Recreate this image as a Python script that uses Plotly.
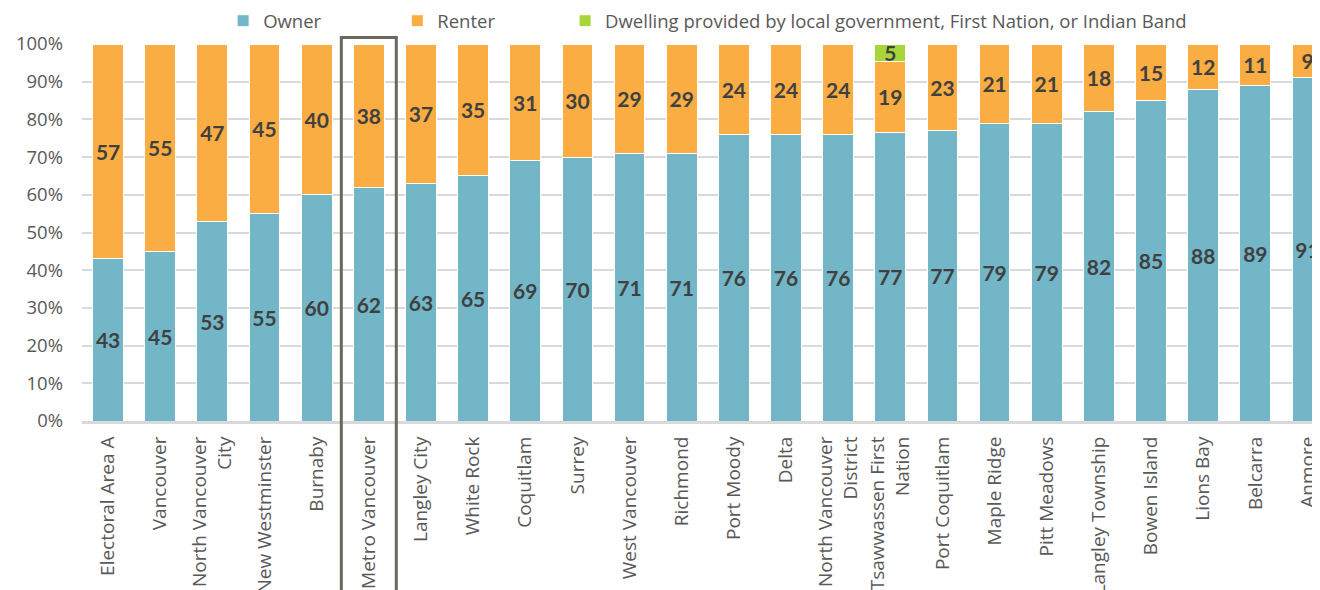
import plotly.graph_objects as go

categories = ["Electoral Area A", "Vancouver", "North Vancouver<br>City", "New Westminster",
              "Burnaby", "Metro Vancouver", "Langley City", "White Rock", "Coquitlam", "Surrey",
              "West Vancouver", "Richmond", "Port Moody", "Delta", "North Vancouver<br>District",
              "Tsawwassen First<br>Nation", "Port Coquitlam", "Maple Ridge", "Pitt Meadows",
              "Langley Township", "Bowen Island", "Lions Bay", "Belcarra", "Anmore"]
owner = [43, 45, 53, 55, 60, 62, 63, 65, 69, 70, 71, 71, 76, 76, 76, 76.6, 77, 79, 79, 82, 85, 88, 89, 91]
renter = [57, 55, 47, 45, 40, 38, 37, 35, 31, 30, 29, 29, 24, 24, 24, 18.8, 23, 21, 21, 18, 15, 12, 11, 9]
other = [None] * 15 + [4.6] + [None] * 8
series_names = ["Owner", "Renter", "Dwelling provided by local government, First Nation, or Indian Band"]
y_ticks = [0, 10, 20, 30, 40, 50, 60, 70, 80, 90, 100]
y_tick_labels = [f"{v}%" for v in y_ticks]
highlight = "Metro Vancouver"

BLUE = "#72B6C8"
ORANGE = "#F9AD42"
GREEN = "#A8D63A"
LABEL_FONT = dict(family="Lato", size=21, color="#404040", weight="bold")
legend_ids = ["legend", "legend2", "legend3"]
legend_x = [0.1140, 0.2547, 0.3902]

fig = go.Figure()
for name, vals, col, lg in zip(series_names, [owner, renter, other], [BLUE, ORANGE, GREEN], legend_ids):
    fig.add_trace(go.Bar(
        x=list(range(len(categories))), y=vals, name=name, legend=lg,
        marker=dict(color=col, line=dict(color="white", width=1)),
        texttemplate="%{y:.0f}", textposition="inside", insidetextanchor="middle",
        textangle=0, textfont=LABEL_FONT, constraintext="none",
    ))

hi = categories.index(highlight)
fig.add_shape(type="rect", xref="x", yref="paper",
              x0=hi - 0.527, x1=hi + 0.527, y0=-0.6, y1=1.0175,
              line=dict(color="#6B6A5A", width=3), fillcolor="rgba(0,0,0,0)", layer="above")

legend_common = dict(orientation="h", xanchor="left", y=1.0605, yanchor="middle",
                     font=dict(size=18.5, color="#595959"), bgcolor="rgba(0,0,0,0)",
                     itemclick=False, itemdoubleclick=False)

# the page body has an 8px default margin, so the figure is 8px smaller than the window
fig.update_layout(
    template="none",
    width=1312, height=582,
    margin=dict(l=74, r=0, t=36, b=168.5, autoexpand=False),
    barmode="stack", bargap=0.41,
    paper_bgcolor="white", plot_bgcolor="white",
    font=dict(family="Open Sans", color="#595959", size=16),
    uniformtext=dict(mode="show", minsize=21),
    showlegend=True,
    legend=dict(x=legend_x[0], **legend_common),
    legend2=dict(x=legend_x[1], **legend_common),
    legend3=dict(x=legend_x[2], **legend_common),
    xaxis=dict(range=[-0.5, 23.24], tickmode="array", tickvals=list(range(len(categories))),
               ticktext=categories, tickangle=-90, showgrid=False, showline=True,
               linecolor="#D9D9D9", linewidth=3, ticks="", ticklabelstandoff=5,
               automargin=False, tickfont=dict(size=19, color="#595959"), zeroline=False),
    yaxis=dict(range=[0, 100], tickvals=y_ticks, ticktext=y_tick_labels, showgrid=True,
               gridcolor="#D9D9D9", gridwidth=1.5, zeroline=False, showline=False, ticks="",
               ticklabelstandoff=18, automargin=False, tickfont=dict(size=18.5, color="#595959")),
)

fig.write_html("out.html")
